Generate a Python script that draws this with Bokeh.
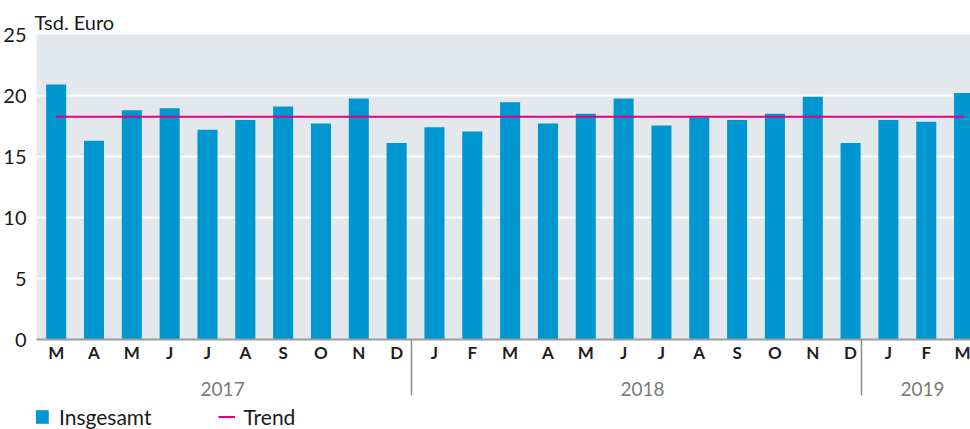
from bokeh.plotting import figure
from bokeh.layouts import column
from bokeh.models import Range1d, LinearAxis, FixedTicker, Legend, LegendItem
from bokeh.embed import file_html
from bokeh.resources import INLINE

# ---- data ----
months = ["M", "A", "M", "J", "J", "A", "S", "O", "N", "D",
          "J", "F", "M", "A", "M", "J", "J", "A", "S", "O", "N", "D",
          "J", "F", "M"]
insgesamt = [20.9, 16.3, 18.8, 18.95, 17.2, 18.0, 19.1, 17.7, 19.75, 16.1,
             17.4, 17.05, 19.45, 17.7, 18.5, 19.75, 17.55, 18.2, 18.0, 18.5, 19.9, 16.1,
             18.0, 17.85, 20.2]
trend = [18.25, 18.25, 18.25, 18.25, 18.25, 18.25, 18.25, 18.25, 18.25, 18.25,
         18.25, 18.25, 18.25, 18.25, 18.25, 18.25, 18.25, 18.25, 18.25, 18.25, 18.25, 18.25,
         18.25, 18.25, 18.25]
years = ["2017", "2018", "2019"]
year_pos = [4.4, 15.5, 22.9]
year_breaks = [9.4, 21.3]
y_ticks = [0, 5, 10, 15, 20, 25]

FONT = "Lato"
BAR_COLOR = "#0096d0"
TREND_COLOR = "#e5007d"
x = list(range(len(months)))

p = figure(width=970, height=400, x_range=Range1d(-0.52, 24.17), y_range=Range1d(0, 25),
           output_backend="svg", toolbar_location=None, x_axis_type=None,
           min_border_left=34, min_border_right=0, min_border_top=34, min_border_bottom=61)
p.background_fill_color = "#e3e8ec"
p.border_fill_color = "white"
p.outline_line_color = None

p.title.text = "Tsd. Euro"
p.title.text_font = FONT
p.title.text_font_size = "20px"
p.title.text_font_style = "normal"
p.title.text_color = "#1a1a1a"
p.title.standoff = 2
p.title.offset = -2

# y axis
yax = p.yaxis[0]
yax.ticker = FixedTicker(ticks=y_ticks)
yax.axis_line_color = None
yax.major_tick_line_color = None
yax.minor_tick_line_color = None
yax.major_label_text_font = FONT
yax.major_label_text_font_size = "20px"
yax.major_label_text_color = "#1a1a1a"
yax.major_label_standoff = 4

p.ygrid.ticker = FixedTicker(ticks=y_ticks)
p.ygrid.grid_line_color = "white"
p.ygrid.grid_line_width = 2
p.xgrid.visible = False

# month axis (minor ticks used as year separators)
max_ = LinearAxis(ticker=FixedTicker(ticks=x, minor_ticks=year_breaks),
                  major_label_overrides={i: m for i, m in enumerate(months)})
max_.axis_line_color = "#9b9b9b"
max_.axis_line_width = 2
max_.major_tick_line_color = None
max_.major_tick_in = 0
max_.major_tick_out = 0
max_.minor_tick_line_color = "#8c8c8c"
max_.minor_tick_line_width = 1.5
max_.minor_tick_in = -56
max_.minor_tick_out = 0
max_.major_label_text_font = FONT
max_.major_label_text_font_size = "17px"
max_.major_label_text_font_style = "bold"
max_.major_label_text_color = "#1e1e1e"
max_.major_label_standoff = 2
p.add_layout(max_, "below")

# year axis
yr = LinearAxis(ticker=FixedTicker(ticks=year_pos),
                major_label_overrides={year_pos[i]: years[i] for i in range(len(years))})
yr.axis_line_color = None
yr.major_tick_line_color = None
yr.major_tick_in = 0
yr.major_tick_out = 0
yr.minor_tick_line_color = None
yr.minor_tick_in = 0
yr.minor_tick_out = 0
yr.major_label_text_font = FONT
yr.major_label_text_font_size = "19px"
yr.major_label_text_color = "#7a7a7a"
yr.major_label_standoff = 16
p.add_layout(yr, "below")

p.vbar(x=x, top=insgesamt, width=0.53, bottom=0, fill_color=BAR_COLOR, line_color=None)
p.line(x=x, y=trend, line_color=TREND_COLOR, line_width=2)

# legend strip (same series, drawn outside its own view so only the legend shows)
pl = figure(width=970, height=29, x_range=Range1d(-0.52, 24.17), y_range=Range1d(100, 101),
            output_backend="svg", toolbar_location=None, x_axis_type=None, y_axis_type=None,
            min_border_left=0, min_border_right=0, min_border_top=0, min_border_bottom=0)
pl.outline_line_color = None
pl.background_fill_color = "white"
pl.border_fill_color = "white"
pl.grid.visible = False
lb = pl.vbar(x=x, top=insgesamt, width=0.53, bottom=0, fill_color=BAR_COLOR, line_color=None)
ll = pl.line(x=x, y=trend, line_color=TREND_COLOR, line_width=2)

legend = Legend(items=[LegendItem(label="Insgesamt", renderers=[lb]),
                       LegendItem(label="Trend", renderers=[ll])],
                orientation="horizontal", location=(-3, 0))
legend.glyph_width = 17
legend.glyph_height = 17
legend.label_text_font = FONT
legend.label_text_font_size = "21px"
legend.label_text_color = "#1a1a1a"
legend.label_standoff = 9
legend.spacing = 66
legend.padding = 0
legend.margin = 0
legend.border_line_color = None
legend.background_fill_alpha = 0
pl.add_layout(legend, "center")

layout = column(p, pl, spacing=0)
open("out.html", "w").write(file_html(layout, INLINE))
